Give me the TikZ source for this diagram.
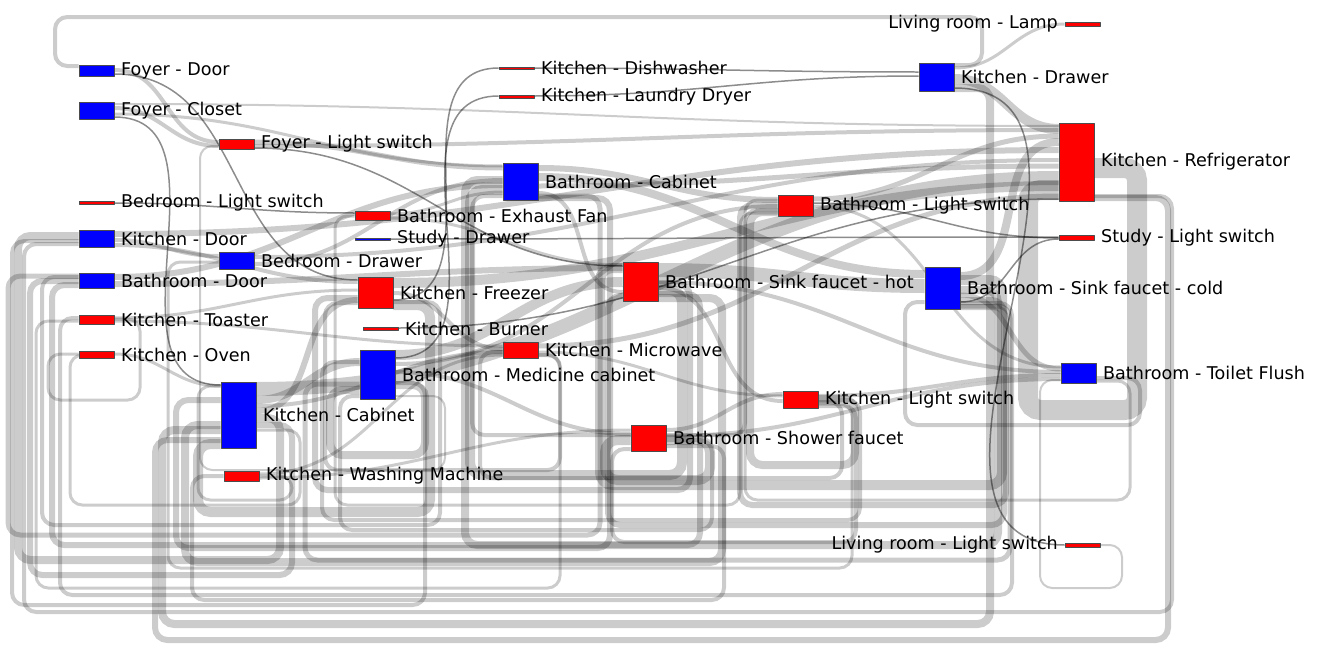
\documentclass[tikz,border=0pt]{standalone}
\usepackage{fontspec}
\setmainfont{DejaVu Sans}
\usetikzlibrary{calc,backgrounds}
\definecolor{sensorblue}{HTML}{0000FF}
\definecolor{sensorred}{HTML}{FF0000}
\newcommand\sensorfont{\fontsize{10}{12}\selectfont}

\begin{document}
\begin{tikzpicture}[x=0.02cm, y=-0.02cm, line join=round,
  flow/.style={draw=black, draw opacity=0.2},
  thinflow/.style={draw=black, draw opacity=0.45, line width=0.03cm},
  loopflow/.style={flow, rounded corners=7pt},
  sensor/.style={draw=black!70, line width=0.35pt, inner sep=0pt,
    minimum width=0.7cm},
  sensorlab/.style={font=\sensorfont, inner sep=0pt}]
  \path[use as bounding box] (0,0) rectangle (1322,659);

  % sensors: name/left x/top y/bottom y/colour/label (pixel grid)
  \foreach \nm/\x/\ya/\yb/\col/\lab in {
      fd/79/65/76/sensorblue/{Foyer - Door},
      fc/79/102/119/sensorblue/{Foyer - Closet},
      fl/219/139/149/sensorred/{Foyer - Light switch},
      bl/79/201/204/sensorred/{Bedroom - Light switch},
      kd/79/230/247/sensorblue/{Kitchen - Door},
      bd/219/252/269/sensorblue/{Bedroom - Drawer},
      bad/79/273/288/sensorblue/{Bathroom - Door},
      kt/79/315/324/sensorred/{Kitchen - Toaster},
      ko/79/351/358/sensorred/{Kitchen - Oven},
      kc/221/382/448/sensorblue/{Kitchen - Cabinet},
      kw/224/471/481/sensorred/{Kitchen - Washing Machine},
      ef/355/211/220/sensorred/{Bathroom - Exhaust Fan},
      sd/355/238/240/sensorblue/{Study - Drawer},
      kf/358/277/308/sensorred/{Kitchen - Freezer},
      kb/363/327/330/sensorred/{Kitchen - Burner},
      mc/360/350/399/sensorblue/{Bathroom - Medicine cabinet},
      dw/499/67/69/sensorred/{Kitchen - Dishwasher},
      ld/499/95/98/sensorred/{Kitchen - Laundry Dryer},
      bc/503/163/200/sensorblue/{Bathroom - Cabinet},
      mw/503/342/358/sensorred/{Kitchen - Microwave},
      sh/623/262/301/sensorred/{Bathroom - Sink faucet - hot},
      sf/631/425/451/sensorred/{Bathroom - Shower faucet},
      bls/778/195/216/sensorred/{Bathroom - Light switch},
      kls/783/391/408/sensorred/{Kitchen - Light switch},
      kdr/919/63/91/sensorblue/{Kitchen - Drawer},
      sc/925/267/309/sensorblue/{Bathroom - Sink faucet - cold},
      kr/1059/123/201/sensorred/{Kitchen - Refrigerator},
      sls/1059/235/240/sensorred/{Study - Light switch},
      tf/1061/363/383/sensorblue/{Bathroom - Toilet Flush}} {
    \node[sensor, fill=\col, minimum height={(\yb-\ya)*0.02cm}] (\nm)
      at ({\x+17.5},{(\ya+\yb)/2}) {};
    \node[sensorlab, anchor=west] (\nm-l) at ([xshift=0.13cm]\nm.east) {\lab};
  }
  % right column, labels on the left
  \foreach \nm/\x/\ya/\yb/\col/\lab in {
      lamp/1065/22/26/sensorred/{Living room - Lamp},
      lls/1065/543/547/sensorred/{Living room - Light switch}} {
    \node[sensor, fill=\col, minimum height={(\yb-\ya)*0.02cm}] (\nm)
      at ({\x+17.5},{(\ya+\yb)/2}) {};
    \node[sensorlab, anchor=east] (\nm-l) at ([xshift=-0.13cm]\nm.west) {\lab};
  }

  \begin{scope}[on background layer]
    % transitions back to an earlier column: src/y/right x/turn y/left x/y/dst/width
    \foreach \src/\ya/\xr/\yy/\xl/\yc/\dst/\w in {
        kc/418/280/560/18/236/kd/8, kc/425/292/575/30/281/bad/6,
        mc/383/425/605/12/241/kd/4, kf/302/440/525/42/277/bad/4,
        kt/319/140/400/48/354/ko/3, kr/196/1172/612/24/244/kd/4,
        sh/294/700/545/52/285/bad/6, sc/303/1012/595/60/318/kt/4,
        kc/430/300/505/70/355/ko/3, mw/355/560/588/36/321/kt/3,
        bc/196/600/535/8/276/bad/5,
        kr/198/1168/640/155/440/kc/6, kdr/88/990/624/162/430/kc/8,
        kf/305/430/512/198/444/kc/10, sh/298/722/562/185/425/kc/8,
        kw/476/292/500/198/386/kc/3, sf/446/724/600/192/476/kw/4,
        kls/404/852/568/168/262/bd/3, bc/198/610/548/176/400/kc/6,
        mc/396/445/470/200/146/fl/2,
        mc/385/425/455/330/390/mc/8, sh/284/690/490/315/298/kf/6,
        kls/400/860/520/322/362/mc/4, sc/306/1010/560/305/384/mc/5,
        bls/213/740/505/335/216/ef/3, sf/440/712/530/340/396/mc/4,
        mw/355/560/470/325/303/kf/4,
        sh/290/682/475/470/190/bc/10, sc/290/998/545/465/180/bc/8,
        kls/402/842/478/480/352/mw/4, bls/210/745/435/472/196/bc/4,
        sc/280/1002/485/600/268/sh/10, sf/440/710/480/605/440/sf/10,
        sc/300/1004/525/608/296/sh/6, kls/406/856/542/612/449/sf/4,
        kls/399/855/465/750/212/bls/8, sc/307/1006/505/740/205/bls/6,
        tf/381/1130/500/745/200/bls/3,
        tf/378/1140/425/905/302/sc/4, kdr/65/982/17/55/66/fd/4,
        kr/168/1137/410/1028/190/kr/20, lls/545/1122/588/1040/380/tf/2} {
      \draw[loopflow, line width=\w*0.02cm]
        (\src.east |- 0,\ya) -| (\xr,\yy) -| (\xl,\yc) -- (\dst.west |- 0,\yc);
    }
    % transitions forward: src/y/dst/y/width
    \foreach \src/\ya/\dst/\yb/\w in {
        fd/70/fl/142/4, fc/108/fl/146/4, fc/104/kr/126/2, fc/114/bc/166/3,
        fl/142/bc/168/5, fl/146/kr/130/4, kd/234/kr/150/6, kd/240/bd/256/4,
        kd/245/kf/282/4, bd/257/kr/160/4, bd/264/bc/180/4, bad/277/bc/185/6,
        bad/284/sh/268/6, kt/318/kf/290/3, kt/321/mw/346/3, ko/354/kc/386/3,
        kc/389/kr/178/14, kc/400/mc/362/8, kc/406/mw/352/4, kc/411/kf/300/6,
        kw/474/mw/355/3, kw/478/sf/430/3, ef/214/bc/192/3, ef/218/sh/265/3,
        kf/283/kr/186/10, kf/293/mw/349/4, mc/355/sh/282/10, mc/364/bls/206/4,
        mc/372/sf/434/4, bc/168/bls/200/6, bc/177/sc/274/8, bc/186/kr/166/5,
        bc/193/sh/292/4, mw/346/kr/196/5, mw/352/kls/396/3, sh/270/sc/286/14,
        sh/282/tf/372/4, sh/288/kls/401/4, sf/430/kls/394/4, sf/436/tf/379/4,
        bls/199/kr/136/5, bls/206/tf/367/3, kls/396/tf/375/4, kdr/68/lamp/24/3,
        kdr/79/kr/129/10, sc/276/kr/142/8, sc/295/tf/369/5} {
      \draw[flow, line width=\w*0.02cm]
        (\src.east |- 0,\ya) to[out=0, in=180, looseness=1.1] (\dst.west |- 0,\yb);
    }
    % single transitions
    \foreach \src/\ya/\dst/\yb in {
        fd/74/kf/280, bl/203/ef/213, sd/239/sls/237, kb/328/kr/199,
        dw/68/kdr/72, ld/96/kdr/76, bls/203/sls/238, sc/302/sls/239,
        kdr/88/lls/545, kf/300/dw/68, mc/358/ld/96, fc/117/kc/385,
        fl/148/sh/266} {
      \draw[thinflow]
        (\src.east |- 0,\ya) to[out=0, in=180, looseness=1.1] (\dst.west |- 0,\yb);
    }
  \end{scope}
\end{tikzpicture}
\end{document}
